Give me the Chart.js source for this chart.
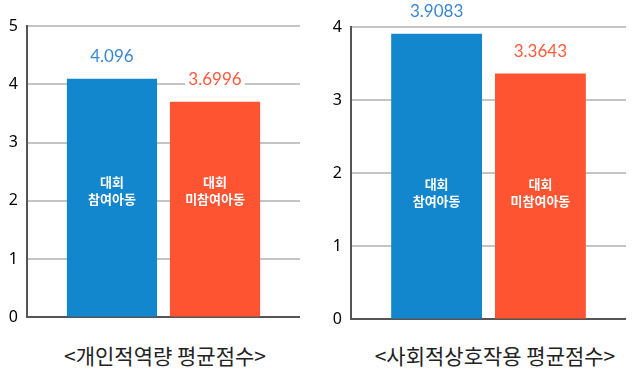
<!DOCTYPE html>
<html>
<head>
<meta charset="utf-8">
<script src="https://cdn.jsdelivr.net/npm/chart.js@4"></script>
<style>
  body { margin: 0; background: #fff; width: 637px; height: 378px; position: relative; overflow: hidden; }
  .box { position: absolute; top: 0; }
  .title { position: absolute; top: 340px; font-family: "Noto Sans CJK KR", sans-serif; font-size: 21px; color: #222; text-align: center; white-space: nowrap; }
</style>
</head>
<body>
<div class="box" style="left:0; width:318px; height:336px;"><canvas id="chart1"></canvas></div>
<div class="box" style="left:318px; width:319px; height:338px;"><canvas id="chart2"></canvas></div>
<div class="title" style="left:0; width:330px;">&lt;개인적역량 평균점수&gt;</div>
<div class="title" style="left:330px; width:330px;">&lt;사회적상호작용 평균점수&gt;</div>
<script>
const groups = [['대회', '참여아동'], ['대회', '미참여아동']];
const personalScores = [4.096, 3.6996];
const socialScores = [3.9083, 3.3643];
const personalTicks = [0, 1, 2, 3, 4, 5];
const socialTicks = [0, 1, 2, 3, 4];

const barColors = ['#1287ce', '#ff5432'];
const labelColors = ['#3a87d4', '#ff5a3c'];

const barLabels = {
    id: 'barLabels',
    afterDatasetsDraw(chart) {
        const ctx = chart.ctx;
        const bottom = chart.chartArea.bottom;
        ctx.save();
        chart.data.datasets.forEach(function(ds, i) {
            const bar = chart.getDatasetMeta(i).data[0];
            const text = String(ds.data[0]);
            // value above bar, on a white patch
            ctx.font = '17px Lato, "Noto Sans", sans-serif';
            ctx.textAlign = 'center';
            ctx.textBaseline = 'middle';
            const w = ctx.measureText(text).width;
            const y = bar.y - 22;
            ctx.fillStyle = '#fff';
            ctx.fillRect(bar.x - w / 2 - 3, y - 9, w + 6, 18);
            ctx.fillStyle = labelColors[i];
            ctx.fillText(text, bar.x, y);
            // group name inside bar
            ctx.font = 'bold 13px "Noto Sans CJK KR", sans-serif';
            ctx.fillStyle = '#fff';
            ctx.fillText(groups[i][0], bar.x, bottom - 135);
            ctx.fillText(groups[i][1], bar.x, bottom - 118);
        });
        ctx.restore();
    }
};

function makeChart(id, values, ticks, axisWidth, pad) {
    new Chart(document.getElementById(id), {
        type: 'bar',
        data: {
            labels: [''],
            datasets: groups.map(function(g, i) {
                return {
                    label: g.join(' '),
                    data: [values[i]],
                    backgroundColor: barColors[i],
                    categoryPercentage: 0.755,
                    barPercentage: 0.875
                };
            })
        },
        options: {
            responsive: true,
            maintainAspectRatio: false,
            animation: false,
            layout: { padding: pad },
            plugins: { legend: { display: false }, tooltip: { enabled: false } },
            scales: {
                x: { display: false },
                y: {
                    min: 0,
                    max: ticks[ticks.length - 1],
                    afterFit: function(scale) { scale.width = axisWidth; },
                    afterBuildTicks: function(scale) { scale.ticks = ticks.map(function(v) { return { value: v }; }); },
                    border: { display: true, color: '#555', width: 2 },
                    grid: {
                        drawTicks: false,
                        lineWidth: 2,
                        color: function(c) { return c.tick && c.tick.value === 0 ? '#555' : '#c4c4c4'; }
                    },
                    ticks: {
                        padding: 9,
                        color: '#000',
                        font: { family: '"Noto Sans", sans-serif', size: 16 }
                    }
                }
            }
        },
        plugins: [barLabels]
    });
}

makeChart('chart1', personalScores, personalTicks, 27, { top: 26, bottom: 8, right: 18, left: 0 });
makeChart('chart2', socialScores, socialTicks, 33, { top: 27, bottom: 6, right: 11, left: 0 });
</script>
</body>
</html>
